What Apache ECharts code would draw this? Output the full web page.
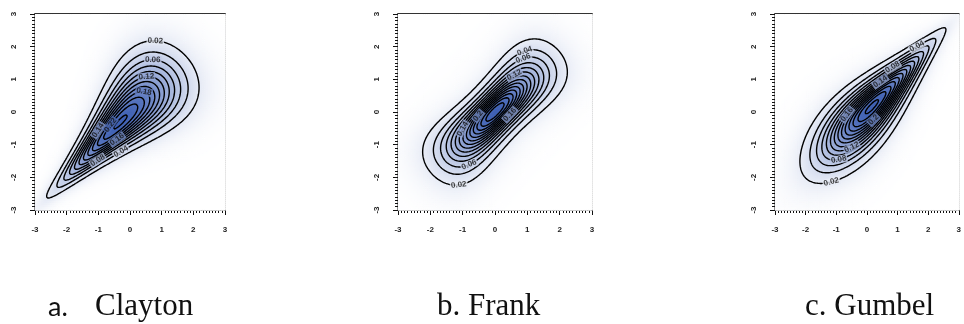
<!DOCTYPE html>
<html>
<head>
<meta charset="utf-8">
<script src="https://cdn.jsdelivr.net/npm/echarts@6/dist/echarts.min.js"></script>
<style>
  html, body { margin: 0; padding: 0; background: #fff; }
  #chart { width: 964px; height: 324px; }
</style>
</head>
<body>
<div id="chart"></div>
<script>
// tick labels on both axes
const axisTicks = [-3, -2, -1, 0, 1, 2, 3];
// copula families, caption letters and parameters
const copulaNames = ['Clayton', 'Frank', 'Gumbel'];
const captionLetters = ['a.', 'b.', 'c.'];
const copulaThetas = [2, 7, 2.4];
// contour levels of the joint density (normal margins)
const contourLevels = [0.02, 0.04, 0.06, 0.08, 0.1, 0.12, 0.14, 0.16, 0.18, 0.2,
  0.22, 0.24, 0.26, 0.28, 0.3, 0.32, 0.34, 0.36, 0.38, 0.4, 0.42, 0.44, 0.46, 0.48];
// labelled contours: [level, x, y] roughly where the label sits
const claytonLabels = [[0.02, 0.8, 2.0], [0.06, 0.7, 1.45], [0.12, 0.55, 0.85], [0.18, 0.4, 0.45],
  [0.04, -0.25, -1.25], [0.08, -1.0, -1.5], [0.14, -1.05, -0.55], [0.22, -0.7, -0.35], [0.16, -0.35, -0.95]];
const frankLabels = [[0.04, 1.0, 1.65], [0.06, 1.0, 1.25], [0.12, 0.75, 0.85], [0.06, -0.85, -1.5],
  [0.02, -1.15, -2.1], [0.14, -0.85, -0.6], [0.2, -0.45, -0.2], [0.16, 0.55, -0.15]];
const gumbelLabels = [[0.04, 1.7, 1.9], [0.08, 0.85, 1.4], [0.12, -0.6, -0.85], [0.08, -0.9, -1.5],
  [0.02, -1.2, -2.05], [0.16, -0.55, -0.15], [0.14, 0.45, 0.95], [0.2, 0.35, -0.35]];
const panelLabels = [claytonLabels, frankLabels, gumbelLabels];

const gridLeft = [35, 398, 775];
const gridWidth = [190, 194, 195];
const GRID_TOP = 14, GRID_H = 196;

const normPdf = x => Math.exp(-x * x / 2) / Math.sqrt(2 * Math.PI);
const normCdf = x => {
  const t = 1 / (1 + 0.2316419 * Math.abs(x));
  const p = normPdf(x) * t * (0.319381530 + t * (-0.356563782 + t * (1.781477937 + t * (-1.821255978 + t * 1.330274429))));
  return x > 0 ? 1 - p : p;
};
const clayton = (u, v, th) =>
  (1 + th) * Math.pow(u * v, -th - 1) * Math.pow(Math.pow(u, -th) + Math.pow(v, -th) - 1, -2 - 1 / th);
const frank = (u, v, th) => {
  const a = 1 - Math.exp(-th);
  const den = a - (1 - Math.exp(-th * u)) * (1 - Math.exp(-th * v));
  return th * a * Math.exp(-th * (u + v)) / (den * den);
};
const gumbel = (u, v, th) => {
  const lu = -Math.log(u), lv = -Math.log(v);
  const A = Math.pow(lu, th) + Math.pow(lv, th);
  return Math.exp(-Math.pow(A, 1 / th)) / (u * v) * Math.pow(A, -2 + 2 / th) *
    Math.pow(lu * lv, th - 1) * (1 + (th - 1) * Math.pow(A, -1 / th));
};
const copulas = [clayton, frank, gumbel];
const density = (k, x, y) => copulas[k](normCdf(x), normCdf(y), copulaThetas[k]) * normPdf(x) * normPdf(y);

const shadeColor = t => {
  t = Math.max(0, Math.min(1, t));
  const r = Math.round(255 + (62 - 255) * t);
  const g = Math.round(255 + (96 - 255) * t);
  const b = Math.round(255 + (180 - 255) * t);
  return `rgb(${r},${g},${b})`;
};

function densityGrid(k, N, h) {
  const z = [];
  for (let j = 0; j <= N; j++) {
    z.push([]);
    for (let i = 0; i <= N; i++) z[j].push(density(k, -3 + i * h, -3 + j * h));
  }
  return z;
}
// marching squares, joined into polylines
function traceLevel(z, N, h, L) {
  const segs = [];
  const pt = (i1, j1, i2, j2) => {
    const z1 = z[j1][i1], z2 = z[j2][i2];
    const t = (L - z1) / (z2 - z1);
    return [-3 + (i1 + (i2 - i1) * t) * h, -3 + (j1 + (j2 - j1) * t) * h];
  };
  for (let j = 0; j < N; j++) {
    for (let i = 0; i < N; i++) {
      const a = z[j][i] >= L, b = z[j][i + 1] >= L, c = z[j + 1][i + 1] >= L, d = z[j + 1][i] >= L;
      // edges: bottom, right, top, left
      const e = [];
      if (a !== b) e.push({ key: (j * (N + 1) + i) * 2, p: pt(i, j, i + 1, j) });
      if (b !== c) e.push({ key: (j * (N + 1) + i + 1) * 2 + 1, p: pt(i + 1, j, i + 1, j + 1) });
      if (d !== c) e.push({ key: ((j + 1) * (N + 1) + i) * 2, p: pt(i, j + 1, i + 1, j + 1) });
      if (a !== d) e.push({ key: (j * (N + 1) + i) * 2 + 1, p: pt(i, j, i, j + 1) });
      if (e.length === 2) segs.push([e[0], e[1]]);
      else if (e.length === 4) {
        const centre = (z[j][i] + z[j][i + 1] + z[j + 1][i + 1] + z[j + 1][i]) / 4 >= L;
        if (a !== centre) { segs.push([e[3], e[0]]); segs.push([e[1], e[2]]); }
        else { segs.push([e[0], e[1]]); segs.push([e[2], e[3]]); }
      }
    }
  }
  const byKey = new Map();
  segs.forEach((s, idx) => s.forEach(end => {
    if (!byKey.has(end.key)) byKey.set(end.key, []);
    byKey.get(end.key).push(idx);
  }));
  const used = new Uint8Array(segs.length);
  const lines = [];
  const walk = (key, add) => {
    for (;;) {
      const next = byKey.get(key).find(id => !used[id]);
      if (next === undefined) return;
      used[next] = 1;
      const s = segs[next];
      const other = s[0].key === key ? s[1] : s[0];
      add(other.p);
      key = other.key;
    }
  };
  for (let s0 = 0; s0 < segs.length; s0++) {
    if (used[s0]) continue;
    used[s0] = 1;
    const pts = [segs[s0][0].p, segs[s0][1].p];
    walk(segs[s0][1].key, p => pts.push(p));
    walk(segs[s0][0].key, p => pts.unshift(p));
    lines.push(pts);
  }
  return lines;
}

const grids = [], xAxes = [], yAxes = [], series = [], graphics = [];
const CN = 150, CH = 6 / CN;   // contour grid
const SN = 100, SH = 6 / SN;   // shading grid

copulaNames.forEach((name, k) => {
  grids.push({ left: gridLeft[k], top: GRID_TOP, width: gridWidth[k], height: GRID_H,
    show: true, borderColor: '#333', borderWidth: 1, backgroundColor: 'transparent' });
  const tickStyle = { color: '#111', width: 1 };
  xAxes.push({
    gridIndex: k, type: 'value', min: axisTicks[0], max: axisTicks[axisTicks.length - 1], interval: 1,
    axisLine: { show: true, onZero: false, lineStyle: { color: '#111', width: 1.2 } },
    axisTick: { show: true, length: 5, lineStyle: tickStyle },
    minorTick: { show: true, splitNumber: 10, length: 3, lineStyle: tickStyle },
    splitLine: { show: false },
    axisLabel: { fontSize: 8, color: '#222', margin: 16, fontFamily: 'Liberation Sans', fontWeight: 'bold' }
  });
  xAxes.push({
    gridIndex: k, type: 'value', position: 'top', min: -3, max: 3,
    axisLine: { show: true, onZero: false, lineStyle: { color: '#333', width: 2 } },
    axisTick: { show: false }, axisLabel: { show: false }, splitLine: { show: false }
  });
  yAxes.push({
    gridIndex: k, type: 'value', min: axisTicks[0], max: axisTicks[axisTicks.length - 1], interval: 1,
    axisLine: { show: true, onZero: false, lineStyle: { color: '#111', width: 1.2 } },
    axisTick: { show: true, length: 5, lineStyle: tickStyle },
    minorTick: { show: true, splitNumber: 10, length: 3, lineStyle: tickStyle },
    splitLine: { show: false },
    axisLabel: { fontSize: 8, color: '#222', margin: 17, rotate: 90, fontFamily: 'Liberation Sans', fontWeight: 'bold' }
  });

  // shading cells
  const cells = [];
  let fmax = 0;
  for (let j = 0; j < SN; j++) {
    for (let i = 0; i < SN; i++) {
      const x = -3 + (i + 0.5) * SH, y = -3 + (j + 0.5) * SH;
      const v = density(k, x, y);
      fmax = Math.max(fmax, v);
      cells.push([x, y, v]);
    }
  }
  const shadeOf = v => shadeColor(Math.pow(v / fmax, 0.8));
  series.push({
    type: 'custom', xAxisIndex: 2 * k, yAxisIndex: k, silent: true, progressive: 0,
    animation: false, data: cells,
    renderItem: (params, api) => {
      const x = api.value(0), y = api.value(1);
      const p1 = api.coord([x - SH / 2, y + SH / 2]);
      const p2 = api.coord([x + SH / 2, y - SH / 2]);
      return { type: 'rect', shape: { x: p1[0], y: p1[1], width: p2[0] - p1[0] + 0.7, height: p2[1] - p1[1] + 0.7 },
        style: { fill: shadeOf(api.value(2)) } };
    }
  });

  // contour lines
  const z = densityGrid(k, CN, CH);
  const linesByLevel = {};
  const polyData = [];
  contourLevels.forEach(L => {
    const ls = traceLevel(z, CN, CH, L);
    linesByLevel[L] = ls;
    ls.forEach(p => polyData.push({ coords: p }));
  });
  series.push({
    type: 'lines', coordinateSystem: 'cartesian2d', xAxisIndex: 2 * k, yAxisIndex: k,
    polyline: true, silent: true, animation: false, progressive: 0, data: polyData,
    lineStyle: { color: '#000', width: 1.4, opacity: 1, cap: 'round', join: 'round' }
  });

  // contour labels, snapped onto their line
  const sx = gridWidth[k] / 6, sy = GRID_H / 6;
  const labelData = panelLabels[k].map(([L, ax, ay]) => {
    let best = null, bd = Infinity;
    (linesByLevel[L] || []).forEach(p => p.forEach((q, idx) => {
      const d = (q[0] - ax) ** 2 + (q[1] - ay) ** 2;
      if (d < bd) { bd = d; best = { p, idx }; }
    }));
    if (!best) return null;
    const { p, idx } = best;
    const q0 = p[Math.max(0, idx - 2)], q1 = p[Math.min(p.length - 1, idx + 2)];
    let rot = Math.atan2((q1[1] - q0[1]) * sy, (q1[0] - q0[0]) * sx) * 180 / Math.PI;
    if (rot > 90) rot -= 180;
    if (rot < -90) rot += 180;
    const q = p[idx];
    return {
      value: [q[0], q[1]],
      label: { rotate: rot, backgroundColor: shadeOf(density(k, q[0], q[1])), formatter: String(L) }
    };
  }).filter(Boolean);
  series.push({
    type: 'scatter', xAxisIndex: 2 * k, yAxisIndex: k, symbolSize: 0, silent: true, animation: false,
    z: 5, data: labelData,
    label: { show: true, position: 'inside', fontSize: 8, fontWeight: 'bold', color: '#111',
      fontFamily: 'Liberation Sans', padding: [0, 1] }
  });
});

// captions
graphics.push({ type: 'text', x: 48, y: 307, style: { text: captionLetters[0], fontSize: 27, fontFamily: 'Lato', fill: '#111', verticalAlign: 'middle' } });
graphics.push({ type: 'text', x: 95, y: 307, style: { text: copulaNames[0], fontSize: 31, fontFamily: 'Liberation Serif', fill: '#111', verticalAlign: 'middle' } });
graphics.push({ type: 'text', x: 437, y: 307, style: { text: captionLetters[1] + ' ' + copulaNames[1], fontSize: 31, fontFamily: 'Liberation Serif', fill: '#111', verticalAlign: 'middle' } });
graphics.push({ type: 'text', x: 805, y: 307, style: { text: captionLetters[2] + ' ' + copulaNames[2], fontSize: 31, fontFamily: 'Liberation Serif', fill: '#111', verticalAlign: 'middle' } });

const chart = echarts.init(document.getElementById('chart'));
chart.setOption({
  animation: false,
  grid: grids,
  xAxis: xAxes,
  yAxis: yAxes,
  series: series,
  graphic: graphics
});
</script>
</body>
</html>
